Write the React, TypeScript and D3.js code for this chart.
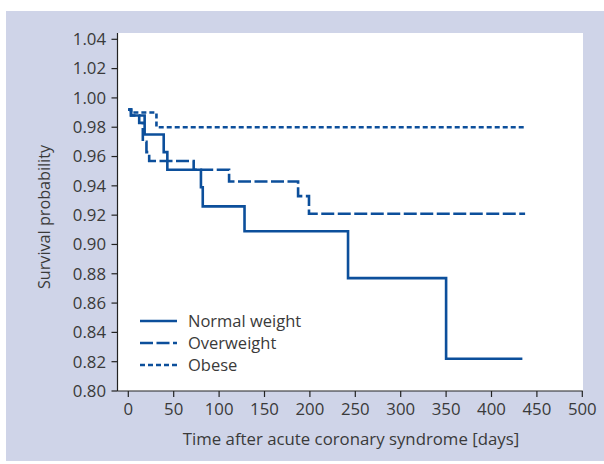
import React from "react";
import * as d3 from "d3";

const normalDays = [0, 3, 18, 39, 43, 80, 82, 128, 242, 350, 434];
const normalSurv = [0.992, 0.988, 0.975, 0.963, 0.951, 0.939, 0.926, 0.909, 0.877, 0.822, 0.822];
const overDays = [0, 3, 12, 16, 20, 23, 72, 111, 187, 199, 437];
const overSurv = [0.992, 0.988, 0.983, 0.970, 0.963, 0.957, 0.951, 0.943, 0.933, 0.921, 0.921];
const obeseDays = [0, 3, 31, 437];
const obeseSurv = [0.992, 0.990, 0.980, 0.980];

const xTicks = [0, 50, 100, 150, 200, 250, 300, 350, 400, 450, 500];
const yTicks = [0.8, 0.82, 0.84, 0.86, 0.88, 0.9, 0.92, 0.94, 0.96, 0.98, 1.0, 1.02, 1.04];

const seriesNames = ["Normal weight", "Overweight", "Obese"];

const BLUE = "#0c4f9b";
const TEXT = "#3a3a3a";
const FONT = "'Open Sans', sans-serif";

export default function App() {
  const x = d3.scaleLinear().domain([0, 500]).range([128.3, 582.3]);
  const y = d3.scaleLinear().domain([0.8, 1.04]).range([391, 39.3]);
  const line = d3
    .line<[number, number]>()
    .x((d) => x(d[0]))
    .y((d) => y(d[1]))
    .curve(d3.curveStepAfter);

  const series = [
    { name: seriesNames[0], days: normalDays, surv: normalSurv, dash: "none" },
    { name: seriesNames[1], days: overDays, surv: overSurv, dash: "13,3.5" },
    { name: seriesNames[2], days: obeseDays, surv: obeseSurv, dash: "5,3" },
  ];

  const axisX = 117.5;
  const axisY = 391;

  return (
    <svg width={604} height={464} style={{ position: "absolute", left: 0, top: 0 }}>
      <rect x={6} y={11} width={598} height={450} fill="#cfd4e8" />
      <rect x={118} y={33} width={465} height={358} fill="#ffffff" />
      {series.map((s) => (
        <path
          key={s.name}
          d={line(s.days.map((d, i) => [d, s.surv[i]] as [number, number])) || ""}
          fill="none"
          stroke={BLUE}
          strokeWidth={2.6}
          strokeDasharray={s.dash}
        />
      ))}
      {/* axes */}
      <line x1={axisX} x2={axisX} y1={33} y2={axisY} stroke="#222" strokeWidth={1.2} />
      <line x1={axisX} x2={x(500) + 0.5} y1={axisY} y2={axisY} stroke="#222" strokeWidth={1.2} />
      {yTicks.map((t) => (
        <g key={t}>
          <line x1={axisX - 6} x2={axisX} y1={y(t)} y2={y(t)} stroke="#222" strokeWidth={1.2} />
          <text
            x={106}
            y={y(t)}
            dy="0.35em"
            textAnchor="end"
            fontFamily={FONT}
            fontSize={16.8}
            fill={TEXT}
          >
            {t.toFixed(2)}
          </text>
        </g>
      ))}
      {xTicks.map((t) => (
        <g key={t}>
          <line x1={x(t)} x2={x(t)} y1={axisY} y2={axisY + 6} stroke="#222" strokeWidth={1.2} />
          <text
            x={x(t)}
            y={415}
            textAnchor="middle"
            fontFamily={FONT}
            fontSize={16.8}
            fill={TEXT}
          >
            {t}
          </text>
        </g>
      ))}
      <text
        x={351}
        y={445}
        textAnchor="middle"
        fontFamily={FONT}
        fontSize={16.8}
        fill={TEXT}
      >
        Time after acute coronary syndrome [days]
      </text>
      <text
        transform={`translate(50, 217) rotate(-90)`}
        textAnchor="middle"
        fontFamily={FONT}
        fontSize={16.2}
        fill={TEXT}
      >
        Survival probability
      </text>
      {/* legend */}
      {series.map((s, i) => (
        <g key={s.name} transform={`translate(140, ${321 + i * 22})`}>
          <line x1={0} x2={37} y1={0} y2={0} stroke={BLUE} strokeWidth={2.6} strokeDasharray={s.dash} />
          <text x={48} y={0} dy="0.35em" fontFamily={FONT} fontSize={16.5} fill={TEXT}>
            {s.name}
          </text>
        </g>
      ))}
    </svg>
  );
}
